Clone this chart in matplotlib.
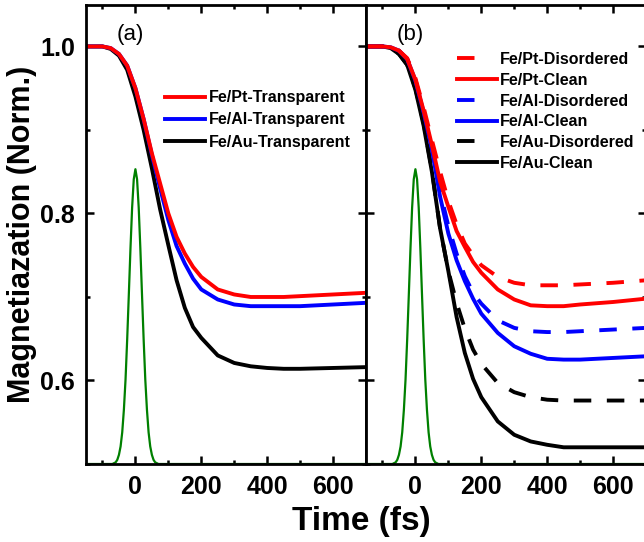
import matplotlib
matplotlib.use('Agg')
import matplotlib.pyplot as plt
from matplotlib.lines import Line2D
from matplotlib.ticker import MultipleLocator

plt.rcParams['font.family'] = 'Liberation Sans'
plt.rcParams['font.weight'] = 'bold'

# time axis shared by all magnetization traces (fs)
time_fs = [-150, -100, -75, -50, -25, 0, 25, 50, 75, 100, 125, 150, 175,
           200, 250, 300, 350, 400, 450, 500, 600, 700]

# (a) transparent interfaces
pt_transparent = [1.000, 1.000, 0.998, 0.991, 0.977, 0.950, 0.913, 0.872, 0.836, 0.800, 0.772,
                  0.752, 0.736, 0.724, 0.709, 0.703, 0.700, 0.700, 0.700, 0.701, 0.703, 0.705]
al_transparent = [1.000, 1.000, 0.998, 0.991, 0.977, 0.950, 0.913, 0.870, 0.830, 0.792, 0.761,
                  0.740, 0.722, 0.709, 0.697, 0.691, 0.689, 0.689, 0.689, 0.689, 0.691, 0.693]
au_transparent = [1.000, 1.000, 0.997, 0.989, 0.972, 0.940, 0.900, 0.854, 0.805, 0.762, 0.720,
                  0.687, 0.664, 0.651, 0.630, 0.621, 0.617, 0.615, 0.614, 0.614, 0.615, 0.616]

# (b) clean vs disordered interfaces
pt_disordered = [1.000, 1.000, 0.999, 0.995, 0.986, 0.962, 0.927, 0.888, 0.850, 0.815, 0.787,
                 0.764, 0.750, 0.738, 0.724, 0.717, 0.714, 0.714, 0.714, 0.715, 0.717, 0.720]
pt_clean = [1.000, 1.000, 0.999, 0.995, 0.985, 0.960, 0.923, 0.882, 0.838, 0.808, 0.779,
            0.760, 0.742, 0.729, 0.709, 0.697, 0.690, 0.689, 0.689, 0.691, 0.694, 0.698]
al_disordered = [1.000, 1.000, 0.999, 0.995, 0.985, 0.960, 0.922, 0.880, 0.826, 0.785, 0.752,
                 0.725, 0.705, 0.692, 0.672, 0.663, 0.659, 0.658, 0.658, 0.659, 0.661, 0.663]
al_clean = [1.000, 1.000, 0.999, 0.995, 0.985, 0.959, 0.921, 0.877, 0.820, 0.776, 0.744,
            0.719, 0.698, 0.680, 0.657, 0.641, 0.632, 0.626, 0.625, 0.625, 0.627, 0.629]
au_disordered = [1.000, 1.000, 0.998, 0.991, 0.978, 0.950, 0.908, 0.852, 0.782, 0.731, 0.693,
                 0.662, 0.637, 0.620, 0.597, 0.586, 0.580, 0.577, 0.576, 0.576, 0.576, 0.576]
au_clean = [1.000, 1.000, 0.998, 0.991, 0.978, 0.948, 0.905, 0.850, 0.782, 0.731, 0.676,
            0.633, 0.602, 0.580, 0.551, 0.535, 0.527, 0.523, 0.520, 0.520, 0.520, 0.520]

# laser pulse envelope, drawn on the magnetization scale
pulse_t = [-150, -70, -60, -55, -50, -45, -40, -35, -30, -25, -20, -15, -10, -5, 0,
           5, 10, 15, 20, 25, 30, 35, 40, 45, 50, 55, 60, 70, 700]
pulse_m = [0.500, 0.500, 0.502, 0.505, 0.511, 0.521, 0.538, 0.565, 0.601, 0.649, 0.703,
           0.758, 0.807, 0.841, 0.853, 0.841, 0.807, 0.758, 0.703, 0.649, 0.601, 0.565,
           0.538, 0.521, 0.511, 0.505, 0.502, 0.500, 0.500]

LW = 2.8
DASH = (0, (4.5, 4))
LEGEND_DASH = (0, (4.5, 12))
LEGEND_FONT = {'size': 11.5, 'weight': 'bold'}


def style_axes(ax, tag):
    ax.set_xlim(-150, 700)
    ax.set_ylim(0.5, 1.05)
    ax.xaxis.set_major_locator(MultipleLocator(200))
    ax.xaxis.set_minor_locator(MultipleLocator(100))
    ax.yaxis.set_major_locator(MultipleLocator(0.2))
    ax.yaxis.set_minor_locator(MultipleLocator(0.1))
    ax.tick_params(which='both', direction='in', top=True, right=True, width=1.8,
                   labelsize=18, pad=8)
    ax.tick_params(which='major', length=6)
    ax.tick_params(which='minor', length=3)
    for sp in ax.spines.values():
        sp.set_linewidth(2)
    ax.text(0.11, 0.936, tag, transform=ax.transAxes, fontsize=16,
            fontweight='normal', va='center')


fig = plt.figure(figsize=(6.44, 5.42), dpi=100)
W, H = 644, 542
ax_a = fig.add_axes([86 / W, (H - 464) / H, 280 / W, 459.3 / H])
ax_b = fig.add_axes([366 / W, (H - 464) / H, 280 / W, 459.3 / H])

# panel (a)
ax_a.plot(pulse_t, pulse_m, color='#008000', lw=1.6)
l_au, = ax_a.plot(time_fs, au_transparent, color='black', lw=LW)
l_al, = ax_a.plot(time_fs, al_transparent, color='#0000ff', lw=LW)
l_pt, = ax_a.plot(time_fs, pt_transparent, color='#ff0000', lw=LW)
style_axes(ax_a, '(a)')
ax_a.legend([l_pt, l_al, l_au],
            ['Fe/Pt-Transparent', 'Fe/Al-Transparent', 'Fe/Au-Transparent'],
            loc='upper left', bbox_to_anchor=(0.283, 0.814), frameon=False,
            borderpad=0, borderaxespad=0, handlelength=2.5, handletextpad=0.25,
            labelspacing=0.46, prop=LEGEND_FONT)

# panel (b)
ax_b.plot(pulse_t, pulse_m, color='#008000', lw=1.6)
ax_b.plot(time_fs, au_clean, color='black', lw=LW)
ax_b.plot(time_fs, au_disordered, color='black', lw=LW, ls=DASH)
ax_b.plot(time_fs, al_clean, color='#0000ff', lw=LW)
ax_b.plot(time_fs, al_disordered, color='#0000ff', lw=LW, ls=DASH)
ax_b.plot(time_fs, pt_clean, color='#ff0000', lw=LW)
ax_b.plot(time_fs, pt_disordered, color='#ff0000', lw=LW, ls=DASH)
style_axes(ax_b, '(b)')
ax_b.tick_params(labelleft=False)

entries = [('#ff0000', LEGEND_DASH, 'Fe/Pt-Disordered'),
           ('#ff0000', '-', 'Fe/Pt-Clean'),
           ('#0000ff', LEGEND_DASH, 'Fe/Al-Disordered'),
           ('#0000ff', '-', 'Fe/Al-Clean'),
           ('black', LEGEND_DASH, 'Fe/Au-Disordered'),
           ('black', '-', 'Fe/Au-Clean')]
handles = [Line2D([], [], color=c, ls=s, lw=LW) for c, s, _ in entries]
ax_b.legend(handles, [e[2] for e in entries],
            loc='upper left', bbox_to_anchor=(0.324, 0.897), frameon=False,
            borderpad=0, borderaxespad=0, handlelength=2.5, handletextpad=0.2,
            labelspacing=0.36, prop=LEGEND_FONT)

fig.text(22 / W, (H - 234) / H, 'Magnetiazation (Norm.)', rotation=90,
         ha='center', va='center', fontsize=22, fontweight='bold')
fig.text(361 / W, (H - 530) / H, 'Time (fs)', ha='center', va='baseline',
         fontsize=24, fontweight='bold')

fig.savefig('out.png', dpi=100)
